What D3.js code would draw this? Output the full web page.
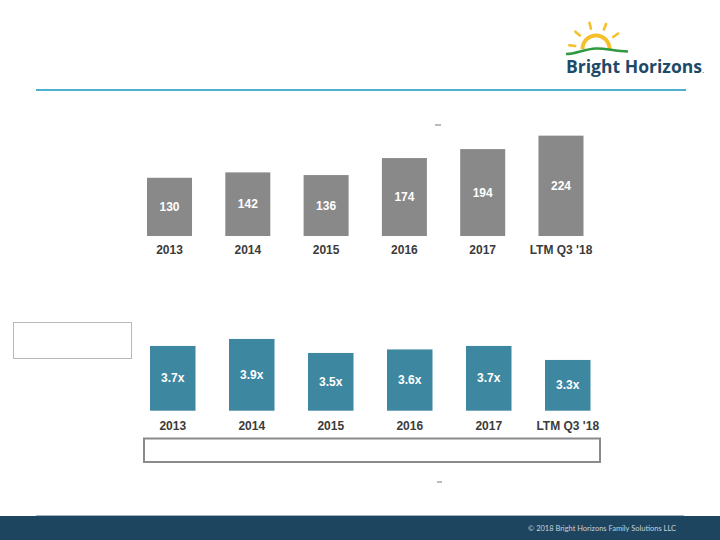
<!DOCTYPE html>
<html>
<head>
<meta charset="utf-8">
<script src="https://cdn.jsdelivr.net/npm/d3@7"></script>
<style>
  html, body { margin: 0; padding: 0; background: #fff; }
  svg { display: block; }
</style>
</head>
<body>
<svg id="chart" width="720" height="540"></svg>
<script>
// ---- data ----
const categories = ["2013", "2014", "2015", "2016", "2017", "LTM Q3 '18"];
const ebitdaValues = [130, 142, 136, 174, 194, 224];
const ebitdaLabels = ["130", "142", "136", "174", "194", "224"];
const leverageValues = [3.7, 3.9, 3.5, 3.6, 3.7, 3.3];
const leverageLabels = ["3.7x", "3.9x", "3.5x", "3.6x", "3.7x", "3.3x"];
const footerText = "\u00A9 2018 Bright Horizons Family Solutions LLC";
const logoText = "Bright Horizons";

const svg = d3.select("#chart");
const font = "'Liberation Sans', Arial, sans-serif";

// ---- header rule ----
svg.append("line").attr("x1", 36).attr("x2", 686).attr("y1", 90).attr("y2", 90)
  .attr("stroke", "#4fb0cc").attr("stroke-width", 2);

// ---- logo ----
const logo = svg.append("g");
const cx = 596, cy = 49;
const sunArc = d3.arc().innerRadius(11.5).outerRadius(15.5).startAngle(-Math.PI / 2).endAngle(Math.PI / 2);
logo.append("path").attr("d", sunArc()).attr("transform", `translate(${cx},${cy})`).attr("fill", "#f4c12b");
const rayAngles = [-82, -50, -14, 22, 55];
rayAngles.forEach(a => {
  const r = a * Math.PI / 180;
  const r1 = 21, r2 = 27;
  logo.append("line")
    .attr("x1", cx + Math.sin(r) * r1).attr("y1", cy - Math.cos(r) * r1)
    .attr("x2", cx + Math.sin(r) * r2).attr("y2", cy - Math.cos(r) * r2)
    .attr("stroke", "#f4c12b").attr("stroke-width", 2.6).attr("stroke-linecap", "round");
});
logo.append("path")
  .attr("d", "M566,54 C576,54 584,49 596,48.5 C606,48.2 614,51 628,51.5 L628,60 L566,60 Z")
  .attr("fill", "#fff");
logo.append("path")
  .attr("d", "M566,54 C576,54 584,49 596,48.5 C606,48.2 614,51 628,51.5")
  .attr("fill", "none").attr("stroke", "#2f9a3f").attr("stroke-width", 2.6);
logo.append("text").attr("x", 566).attr("y", 73).text(logoText)
  .attr("font-family", "'Open Sans', 'Noto Sans', sans-serif").attr("font-weight", 700)
  .attr("font-size", 17).attr("fill", "#1d4a68")
  .attr("textLength", 136).attr("lengthAdjust", "spacingAndGlyphs");
logo.append("text").attr("x", 702).attr("y", 73).text(".")
  .attr("font-family", "'Open Sans', sans-serif").attr("font-size", 8).attr("fill", "#1d4a68");

// ---- top chart: gray bars ----
const xTop = d3.scaleBand().domain(categories).range([147, 583.5]).paddingInner(0.425).paddingOuter(0);
const yTop = d3.scaleLinear().domain([0, 250]).range([236, 124]);
const gTop = svg.append("g");
gTop.selectAll("rect").data(categories).join("rect")
  .attr("x", d => xTop(d)).attr("width", xTop.bandwidth())
  .attr("y", (d, i) => yTop(ebitdaValues[i]))
  .attr("height", (d, i) => yTop(0) - yTop(ebitdaValues[i]))
  .attr("fill", "#898989");
gTop.selectAll("text.val").data(categories).join("text").attr("class", "val")
  .attr("x", d => xTop(d) + xTop.bandwidth() / 2)
  .attr("y", (d, i) => (yTop(ebitdaValues[i]) + yTop(0)) / 2 + 4)
  .attr("text-anchor", "middle").attr("font-family", font).attr("font-weight", 700)
  .attr("font-size", 12).attr("fill", "#fff")
  .text((d, i) => ebitdaLabels[i]);
gTop.selectAll("text.cat").data(categories).join("text").attr("class", "cat")
  .attr("x", d => xTop(d) + xTop.bandwidth() / 2).attr("y", 254)
  .attr("text-anchor", "middle").attr("font-family", font).attr("font-weight", 700)
  .attr("font-size", 12).attr("fill", "#3b3b3b").text(d => d);
svg.append("line").attr("x1", 435).attr("x2", 441).attr("y1", 125).attr("y2", 125)
  .attr("stroke", "#777").attr("stroke-width", 1);

// ---- bottom chart: teal bars ----
svg.append("rect").attr("x", 13.5).attr("y", 322.5).attr("width", 118).attr("height", 36)
  .attr("fill", "#fff").attr("stroke", "#b8b8b8").attr("stroke-width", 1);
const xBot = d3.scaleBand().domain(categories).range([150, 590.5]).paddingInner(0.424).paddingOuter(0);
const yBot = d3.scaleLinear().domain([1.85, 4]).range([410.7, 335.45]);
const gBot = svg.append("g");
gBot.selectAll("rect").data(categories).join("rect")
  .attr("x", d => xBot(d)).attr("width", xBot.bandwidth())
  .attr("y", (d, i) => yBot(leverageValues[i]))
  .attr("height", (d, i) => yBot(1.85) - yBot(leverageValues[i]))
  .attr("fill", "#3d87a0");
gBot.selectAll("text.val").data(categories).join("text").attr("class", "val")
  .attr("x", d => xBot(d) + xBot.bandwidth() / 2)
  .attr("y", (d, i) => (yBot(leverageValues[i]) + yBot(1.85)) / 2 + 4)
  .attr("text-anchor", "middle").attr("font-family", font).attr("font-weight", 700)
  .attr("font-size", 12).attr("fill", "#fff")
  .text((d, i) => leverageLabels[i]);
gBot.selectAll("text.cat").data(categories).join("text").attr("class", "cat")
  .attr("x", d => xBot(d) + xBot.bandwidth() / 2).attr("y", 430)
  .attr("text-anchor", "middle").attr("font-family", font).attr("font-weight", 700)
  .attr("font-size", 12).attr("fill", "#3b3b3b").text(d => d);
svg.append("rect").attr("x", 144).attr("y", 438.5).attr("width", 456).attr("height", 23.5)
  .attr("fill", "#fff").attr("stroke", "#8a8a8a").attr("stroke-width", 2);
svg.append("line").attr("x1", 437).attr("x2", 442).attr("y1", 482).attr("y2", 482)
  .attr("stroke", "#777").attr("stroke-width", 1);

// ---- footer ----
svg.append("rect").attr("x", 0).attr("y", 516).attr("width", 720).attr("height", 24).attr("fill", "#1d4560");
svg.append("line").attr("x1", 36).attr("x2", 684).attr("y1", 515.5).attr("y2", 515.5)
  .attr("stroke", "#9fb3c0").attr("stroke-width", 1);
svg.append("text").attr("x", 528).attr("y", 530.5).text(footerText)
  .attr("font-family", "Lato, 'Open Sans', sans-serif").attr("font-size", 8).attr("fill", "#c9d2d9")
  .attr("textLength", 148).attr("lengthAdjust", "spacingAndGlyphs");
</script>
</body>
</html>
